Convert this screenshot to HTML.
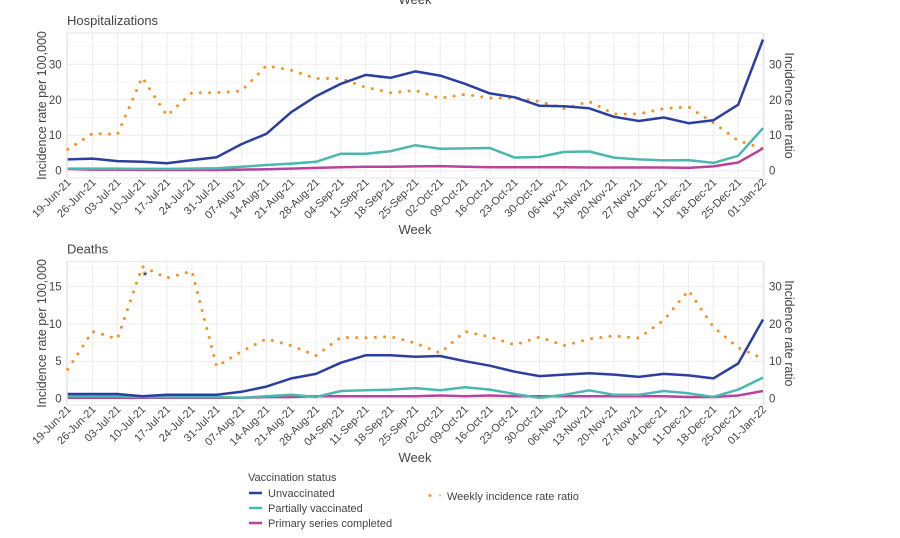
<!DOCTYPE html>
<html><head><meta charset="utf-8"><style>
body{margin:0;background:#fff;}
svg{display:block;font-family:"Liberation Sans",sans-serif;}
</style></head><body>
<svg id="c" width="900" height="538"></svg>
<script>
const weeks=["19-Jun-21","26-Jun-21","03-Jul-21","10-Jul-21","17-Jul-21","24-Jul-21","31-Jul-21","07-Aug-21","14-Aug-21","21-Aug-21","28-Aug-21","04-Sep-21","11-Sep-21","18-Sep-21","25-Sep-21","02-Oct-21","09-Oct-21","16-Oct-21","23-Oct-21","30-Oct-21","06-Nov-21","13-Nov-21","20-Nov-21","27-Nov-21","04-Dec-21","11-Dec-21","18-Dec-21","25-Dec-21","01-Jan-22"];
const hospUnvax=[3.2,3.4,2.7,2.5,2.1,3.0,3.8,7.5,10.4,16.5,21,24.5,27,26.2,28,26.8,24.5,21.8,20.7,18.3,18.2,17.6,15.2,14,15,13.4,14.2,18.6,37];
const hospPartial=[0.6,0.6,0.6,0.5,0.5,0.6,0.7,1.1,1.6,2.0,2.5,4.8,4.8,5.5,7.2,6.2,6.3,6.4,3.7,3.9,5.3,5.4,3.7,3.2,2.9,3.0,2.2,4.2,12];
const hospPrimary=[0.5,0.3,0.3,0.2,0.2,0.2,0.2,0.3,0.4,0.6,0.8,1.0,1.1,1.1,1.2,1.3,1.1,1.0,1.0,1.0,1.0,0.9,0.9,0.9,0.9,0.8,1.2,2.3,6.3];
const hospRatio=[6,10.5,10.2,26.3,15.5,22,22,22.5,29.6,28.3,26,26,23.5,22,22.6,20.4,21.5,20.5,20.5,19.5,17.5,19.5,16,16,17.5,18,13.5,8.5,6.2];
const deathUnvax=[0.6,0.6,0.6,0.3,0.5,0.5,0.5,0.9,1.6,2.7,3.3,4.8,5.8,5.8,5.6,5.7,5.0,4.4,3.6,3.0,3.2,3.4,3.2,2.9,3.3,3.1,2.7,4.7,10.6];
const deathPartial=[0.3,0.3,0.3,0.2,0.2,0.2,0.2,0.1,0.3,0.5,0.2,1.0,1.1,1.2,1.4,1.1,1.5,1.2,0.6,0.1,0.5,1.1,0.5,0.5,1.0,0.7,0.2,1.2,2.8];
const deathPrimary=[0.1,0.1,0.1,0.1,0.1,0.1,0.1,0.1,0.2,0.2,0.3,0.3,0.3,0.3,0.3,0.4,0.3,0.4,0.3,0.3,0.3,0.3,0.3,0.3,0.3,0.2,0.2,0.4,1.0];
const deathRatio=[7.8,18,16,35.4,32.3,34.2,8.6,12.6,16,14.2,11.5,16.4,16.3,16.6,14.9,12.2,18,16.5,14.4,16.5,14.2,16,16.8,16.2,21,29,19.2,13.6,10.7];
const hospTicks=[0,10,20,30];
const deathLeftTicks=[0,5,10,15];
const deathRightTicks=[0,10,20,30];

const NS="http://www.w3.org/2000/svg";
const svg=document.getElementById('c');
function el(t,a,p){const e=document.createElementNS(NS,t);for(const k in a)e.setAttribute(k,a[k]);(p||svg).appendChild(e);return e;}
const X0=67.7,X1=763;
const x=i=>X0+i*(X1-X0)/(weeks.length-1);
const C={u:"#2b3f9e",p:"#4bb8b0",m:"#b8439b",r:"#f5921e",t:"#444"};

function panel(o){
  const g=el('g',{});
  
  
  const yL=v=>o.y0+(v)*(o.y30-o.y0)/o.lref;
  const yR=v=>o.y0+(v)*(o.y30-o.y0)/o.rref;
  const fr=el('rect',{x:X0-1,y:o.top,width:X1-X0+2,height:o.bot-o.top,fill:'none',stroke:'#e4e4e4'},g);
  
  weeks.forEach((w,i)=>{el('line',{x1:x(i),x2:x(i),y1:o.top,y2:o.bot,stroke:'#ececec'},g);});
  o.lt.forEach(v=>{el('line',{x1:X0,x2:X1,y1:yL(v),y2:yL(v),stroke:'#ececec'},g);
    const h=v+(o.lt[1]-o.lt[0])/2;if(yL(h)>o.top)el('line',{x1:X0,x2:X1,y1:yL(h),y2:yL(h),stroke:'#f4f4f4'},g);});
  o.lt.forEach(v=>{const t=el('text',{x:X0-6,y:yL(v)+4,'text-anchor':'end','font-size':11.5,fill:C.t},g);t.textContent=v;
    });
  o.rt.forEach(v=>{const t=el('text',{x:X1+6,y:yR(v)+4,'font-size':11.5,fill:C.t},g);t.textContent=v;
    });
  weeks.forEach((w,i)=>{const t=el('text',{x:0,y:0,'text-anchor':'end','font-size':11,fill:C.t,transform:`translate(${x(i)+4},${o.bot+5}) rotate(-45)`},g);t.textContent=w;
    });
  let t=el('text',{x:67,y:o.top-8,'font-size':13,fill:C.t},g);t.textContent=o.title;
  t=el('text',{x:415,y:o.weekY,'text-anchor':'middle','font-size':13,fill:C.t},g);t.textContent='Week';
  t=el('text',{x:0,y:0,'text-anchor':'middle','font-size':12.5,fill:C.t,transform:`translate(46,${(o.top+o.bot)/2}) rotate(-90)`},g);t.textContent='Incidence rate per 100,000';
  t=el('text',{x:0,y:0,'text-anchor':'middle','font-size':12.5,fill:C.t,transform:`translate(785,${(o.top+o.bot)/2}) rotate(90)`},g);t.textContent='Incidence rate ratio';
  const line=(arr,f,col,nm,extra)=>{const d=arr.map((v,i)=>(i?'L':'M')+x(i).toFixed(1)+','+f(v).toFixed(1)).join('');
    const p=el('path',Object.assign({d,fill:'none',stroke:col,'stroke-width':2.5,'stroke-linejoin':'round'},extra||{}),g);
    };
  line(o.r,yR,C.r,'ratio-line',{'stroke-width':3,'stroke-dasharray':'0 9.3','stroke-linecap':'round'});
  line(o.m,yL,C.m,'primary-series-line');
  line(o.p,yL,C.p,'partially-vaccinated-line');
  line(o.u,yL,C.u,'unvaccinated-line');
}
panel({name:'hospitalizations-panel',title:'Hospitalizations',top:33,bot:178,y0:170.7,y30:64.3,lref:30,rref:30,lt:hospTicks,rt:hospTicks,weekY:234,u:hospUnvax,p:hospPartial,m:hospPrimary,r:hospRatio});
panel({name:'deaths-panel',title:'Deaths',top:261.7,bot:405,y0:398.5,y30:286.7,lref:15,rref:30,lt:deathLeftTicks,rt:deathRightTicks,weekY:462,u:deathUnvax,p:deathPartial,m:deathPrimary,r:deathRatio});
let s=el('text',{x:145,y:280,'text-anchor':'middle','font-size':12,fill:'#111'});s.textContent='*';

let w=el('text',{x:415,y:4,'text-anchor':'middle','font-size':13,fill:C.t});w.textContent='Week';

const lg=el('g',{});
let lt=el('text',{x:248,y:481,'font-size':11,fill:C.t},lg);lt.textContent='Vaccination status';

[['Unvaccinated',C.u,497],['Partially vaccinated',C.p,512],['Primary series completed',C.m,527]].forEach(([n,c,y])=>{
  const ge=el('g',{},lg);
  el('line',{x1:249,x2:262,y1:y-4,y2:y-4,stroke:c,'stroke-width':2.5},ge);
  const t=el('text',{x:268,y:y,'font-size':11,fill:C.t},ge);t.textContent=n;});
const gr=el('g',{},lg);
el('circle',{cx:430,cy:495.5,r:1.5,fill:C.r},gr);el('circle',{cx:440,cy:495.5,r:1.2,fill:'#f8c080'},gr);
const rt=el('text',{x:447,y:500,'font-size':11,fill:C.t},gr);rt.textContent='Weekly incidence rate ratio';
</script>
</body></html>
